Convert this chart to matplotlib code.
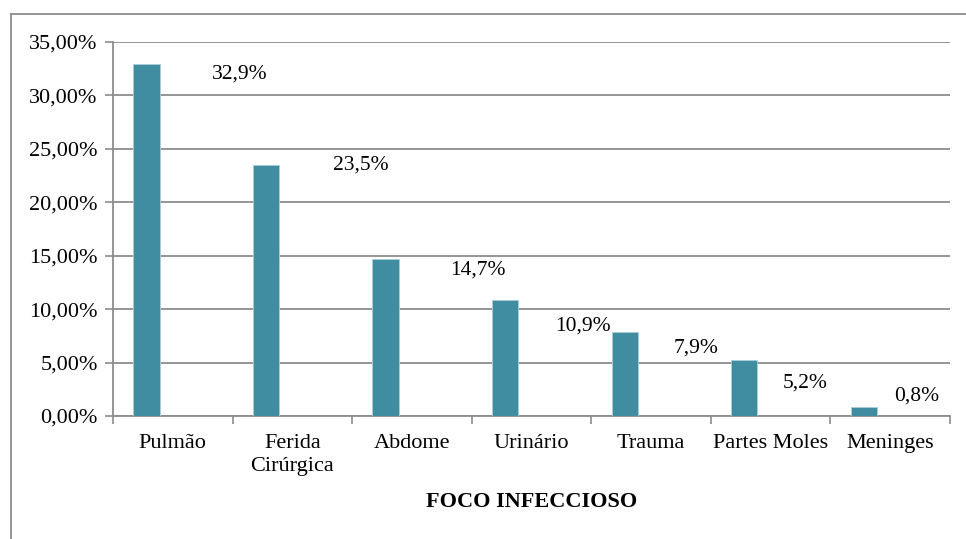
import matplotlib.pyplot as plt
from matplotlib.lines import Line2D
from matplotlib.ticker import FuncFormatter, MultipleLocator, FixedLocator

# ----
# Data

categories = ["Pulmão", "Ferida\nCirúrgica", "Abdome", "Urinário", "Trauma", "Partes Moles", "Meninges"]
values = [32.9, 23.5, 14.7, 10.9, 7.9, 5.2, 0.8]
value_labels = ["32,9%", "23,5%", "14,7%", "10,9%", "7,9%", "5,2%", "0,8%"]

# label placement (as dragged in the original chart), in category / percent units
label_dx = [0.56, 0.57, 0.55, 0.43, 0.38, 0.29, 0.22]
label_y = [32.0, 23.5, 13.7, 8.4, 6.4, 3.1, 1.9]

plt.rcParams['font.family'] = ['Liberation Serif', 'DejaVu Serif']

fig = plt.figure(figsize=(9.66, 5.39), dpi=100)
ax = fig.add_axes([113 / 966, 1 - 416 / 539, (950 - 113) / 966, (416 - 42) / 539])

# ---------------
# Outer frame box

frame_kw = dict(color="#8c8c8c", lw=1.3, transform=fig.transFigure)
fig.add_artist(Line2D([11 / 966, 11 / 966], [0, 1 - 14 / 539], **frame_kw))
fig.add_artist(Line2D([11 / 966, 1], [1 - 14 / 539, 1 - 14 / 539], **frame_kw))

# ----
# Bars

x = list(range(len(categories)))
bar_w = 0.22
ax.bar([i - bar_w for i in x], values, width=bar_w, color="#408ca0",
       edgecolor="#a9d0da", linewidth=0.6, zorder=3)

for i, lab in enumerate(value_labels):
    ax.text(i + label_dx[i], label_y[i], lab, ha="center", va="center", fontsize=15.5, zorder=4)

# ----
# Axes

ax.set_xlim(-0.5, len(categories) - 0.5)
ax.set_ylim(0, 35)
ax.yaxis.set_major_locator(MultipleLocator(5))
ax.yaxis.set_major_formatter(FuncFormatter(lambda v, _: f"{v:.2f}%".replace(".", ",")))
ax.grid(axis="y", color="#8c8c8c", lw=1.3, zorder=0)

ax.xaxis.set_major_locator(FixedLocator([i - 0.5 for i in range(len(categories) + 1)]))
ax.xaxis.set_major_formatter(FuncFormatter(lambda v, _: ""))
ax.xaxis.set_minor_locator(FixedLocator(x))
ax.set_xticklabels(categories, minor=True, fontsize=16, linespacing=1.28, va="top")
ax.tick_params(axis="x", which="minor", length=0, pad=13)
ax.tick_params(axis="x", which="major", length=6, color="#8c8c8c", width=1.2)
ax.tick_params(axis="y", length=6, color="#8c8c8c", width=1.2, labelsize=16, pad=5)

for spine in ["top", "right"]:
    ax.spines[spine].set_visible(False)
for spine in ["left", "bottom"]:
    ax.spines[spine].set_color("#8c8c8c")
    ax.spines[spine].set_linewidth(1.3)

ax.set_xlabel("FOCO INFECCIOSO", fontsize=16, fontweight="bold", va="center")
ax.xaxis.set_label_coords(0.5, -(502 - 416) / 374)

fig.savefig("out.png", dpi=100)
